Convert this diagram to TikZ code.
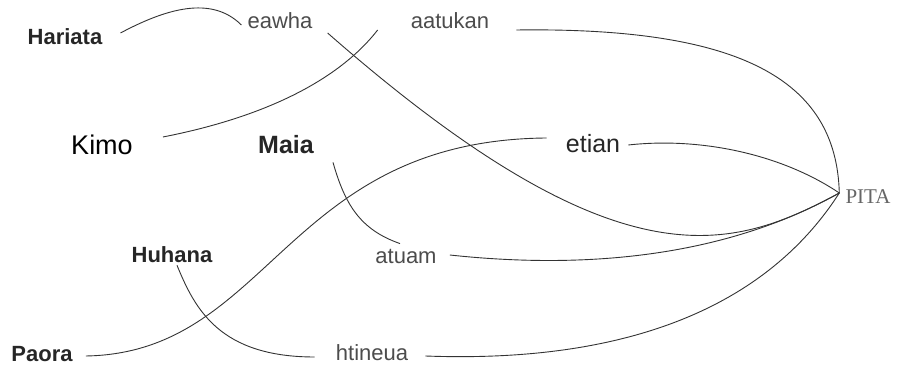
\documentclass[tikz,border=0pt]{standalone}
\usepackage{fontspec}
\setmainfont{Liberation Sans}
\newfontfamily\pitafont{Liberation Serif}
\usepackage{tikz}

\tikzset{
  person/.style={inner sep=0pt,text=black!85,font=\fontsize{22}{26}\selectfont\bfseries},
  word/.style={inner sep=0pt,text=black!70,font=\fontsize{22}{26}\selectfont},
  link/.style={black!80,line width=0.9pt}
}

\begin{document}
\begin{tikzpicture}[x=1pt,y=1pt]
  \useasboundingbox (0,0) rectangle (897,369);

  \node[person] (hariata) at (65,332) {Hariata};
  \node[word] (eawha) at (280,348) {eawha};
  \node[word] (aatukan) at (450,348) {aatukan};
  \node[person,text=black,font=\fontsize{27}{30}\selectfont] (kimo) at (102,224) {Kimo};
  \node[person,font=\fontsize{25}{30}\selectfont\bfseries] (maia) at (286,224) {Maia};
  \node[word,text=black!85,font=\fontsize{25}{30}\selectfont] (etian) at (593,225) {etian};
  \node[inner sep=0pt,text=black!60,font=\fontsize{21}{25}\pitafont] (pita) at (868,172) {PITA};
  \node[person] (huhana) at (172,114) {Huhana};
  \node[word] (atuam) at (406,113) {atuam};
  \node[person] (paora) at (42,15) {Paora};
  \node[word] (htineua) at (372,16) {htineua};

  \draw[link] ([shift={(18,4)}]hariata.east) .. controls +(45,24) and +(-30,30) .. ([shift={(-6,-4)}]eawha.west);
  \draw[link] ([shift={(30,8)}]kimo.east) .. controls +(112,22) and +(-35,-45) .. ([shift={(-33,-9)}]aatukan.west);
  \draw[link] ([shift={(15,-12)}]eawha.east) .. controls +(292,-256) and +(-108,-58) .. ([shift={(-6,4)}]pita.west);
  \draw[link] ([shift={(27,-9)}]aatukan.east) .. controls +(223,3) and +(-3,114) .. ([shift={(-6,4)}]pita.west);
  \draw[link] ([shift={(8,-1)}]etian.east) .. controls +(72,8) and +(-58,39) .. ([shift={(-6,4)}]pita.west);
  \draw[link] ([shift={(13,-2)}]paora.east) .. controls +(185,3) and +(-262,-2) .. ([shift={(-19,6)}]etian.west);
  \draw[link] ([shift={(19,-8)}]maia.south east) .. controls +(12,-42) and +(-40,14) .. ([shift={(-6,5)}]atuam.north);
  \draw[link] ([shift={(5,-2)}]huhana.south) .. controls +(18,-44) and +(-95,0) .. ([shift={(-21,-4)}]htineua.west);
  \draw[link] ([shift={(13,1)}]atuam.east) .. controls +(130,-14) and +(-118,-66) .. ([shift={(-6,4)}]pita.west);
  \draw[link] ([shift={(17,-3)}]htineua.east) .. controls +(215,-8) and +(-68,-106) .. ([shift={(-6,4)}]pita.west);
\end{tikzpicture}
\end{document}
